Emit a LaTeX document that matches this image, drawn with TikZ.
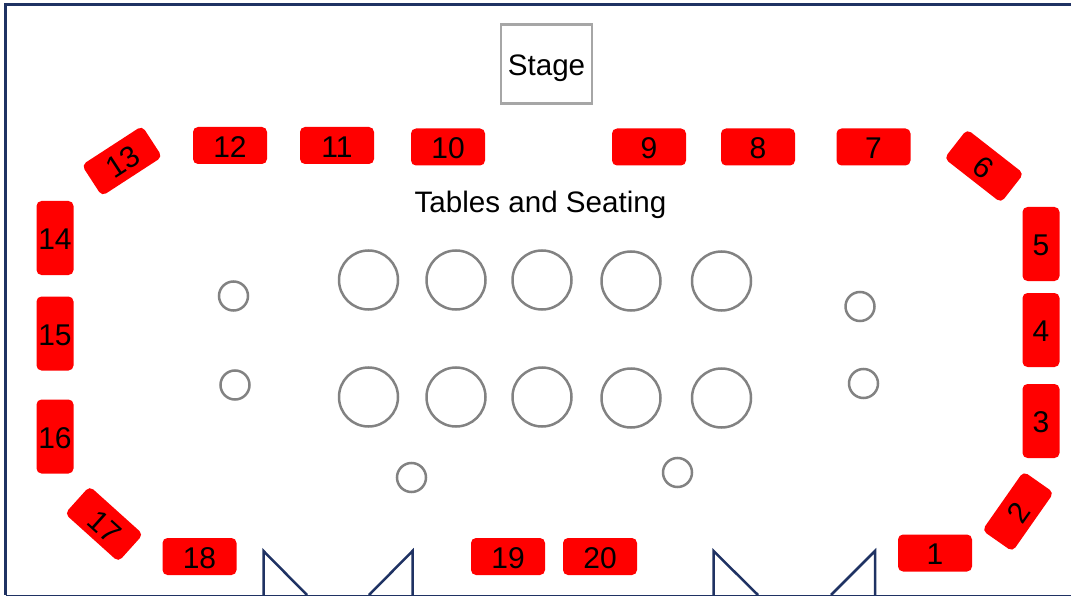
\documentclass[tikz,border=0pt]{standalone}
\usepackage{fontspec}
\setmainfont{Liberation Sans}
\definecolor{framenavy}{RGB}{31,50,99}
\definecolor{tablegray}{RGB}{130,130,130}
\begin{document}
\begin{tikzpicture}[
    x=1pt,y=-1pt,
    seat/.style={
        rectangle,
        rounded corners=5pt,
        minimum width=74pt,
        minimum height=37pt,
        inner sep=0pt,
        text height=23.5pt,
        text depth=0pt,
        fill=red,
        font=\fontsize{30}{30}\selectfont
    },
    tiltseat/.style={seat, minimum width=72pt},
    tallseat/.style={seat, minimum width=37pt, minimum height=74pt},
    bigtable/.style={circle, draw=tablegray, line width=2.5pt, minimum size=59pt, inner sep=0pt},
    smalltable/.style={circle, draw=tablegray, line width=2.5pt, minimum size=29pt, inner sep=0pt},
    doorway/.style={draw=framenavy, line width=2.5pt, line join=miter}
]
\useasboundingbox (0,0) rectangle (1071,596);

\draw[draw=framenavy, line width=2.5pt] (1075,4.5) -- (5.5,4.5) -- (5.5,595);
\draw[draw=framenavy, line width=1.5pt] (5.5,595.3) -- (1071,595.3);

\node[draw=black!35, line width=2.5pt, minimum width=91pt, minimum height=79pt, inner sep=0pt, text height=28.5pt, text depth=6.3pt, font=\fontsize{29.6}{30}\selectfont] (stage) at (546.5,64) {Stage};
\node[font=\fontsize{29.6}{30}\selectfont, inner sep=0pt] (title) at (540.5,204.5) {Tables and Seating};

% seats
\node[seat] (s1) at (935,553) {1};
\node[tiltseat, rotate=55] (s2) at (1018,511.5) {2};
\node[tallseat] (s3) at (1041,421) {3};
\node[tallseat] (s4) at (1041,330) {4};
\node[tallseat] (s5) at (1041,244) {5};
\node[tiltseat, rotate=-38] (s6) at (984,166) {6};
\node[seat] (s7) at (873.5,147) {7};
\node[seat] (s8) at (758,147) {8};
\node[seat] (s9) at (649,147) {9};
\node[seat] (s10) at (448,147) {10};
\node[seat] (s11) at (337,145.5) {11};
\node[seat] (s12) at (230,145.5) {12};
\node[tiltseat, rotate=33] (s13) at (122,161) {13};
\node[tallseat] (s14) at (55,238) {14};
\node[tallseat] (s15) at (55,333.5) {15};
\node[tallseat] (s16) at (55,436.5) {16};
\node[tiltseat, rotate=-42] (s17) at (104,524) {\hspace*{5pt}17};
\node[seat] (s18) at (199.5,556.5) {18};
\node[seat] (s19) at (508,556.5) {19};
\node[seat] (s20) at (600,556.5) {20};

% tables
\node[bigtable] (t1) at (368.5,280) {};
\node[bigtable] (t2) at (456,280) {};
\node[bigtable] (t3) at (542,280) {};
\node[bigtable] (t4) at (631,281) {};
\node[bigtable] (t5) at (721.5,281) {};
\node[bigtable] (t6) at (368.5,397) {};
\node[bigtable] (t7) at (456,397) {};
\node[bigtable] (t8) at (542,397) {};
\node[bigtable] (t9) at (631,398) {};
\node[bigtable] (t10) at (721.5,398) {};
\node[smalltable] (c1) at (233.5,296) {};
\node[smalltable] (c2) at (235,385) {};
\node[smalltable] (c3) at (411.5,477.5) {};
\node[smalltable] (c4) at (677.5,472.5) {};
\node[smalltable] (c5) at (860,306.5) {};
\node[smalltable] (c6) at (863.5,383.5) {};

% doors
\draw[doorway] (307,595) -- (263.5,551) -- (263.5,595);
\draw[doorway] (369,595) -- (412.5,551) -- (412.5,595);
\draw[doorway] (758,595) -- (713.5,551) -- (713.5,595);
\draw[doorway] (831,595) -- (875,551) -- (875,595);
\end{tikzpicture}
\end{document}
